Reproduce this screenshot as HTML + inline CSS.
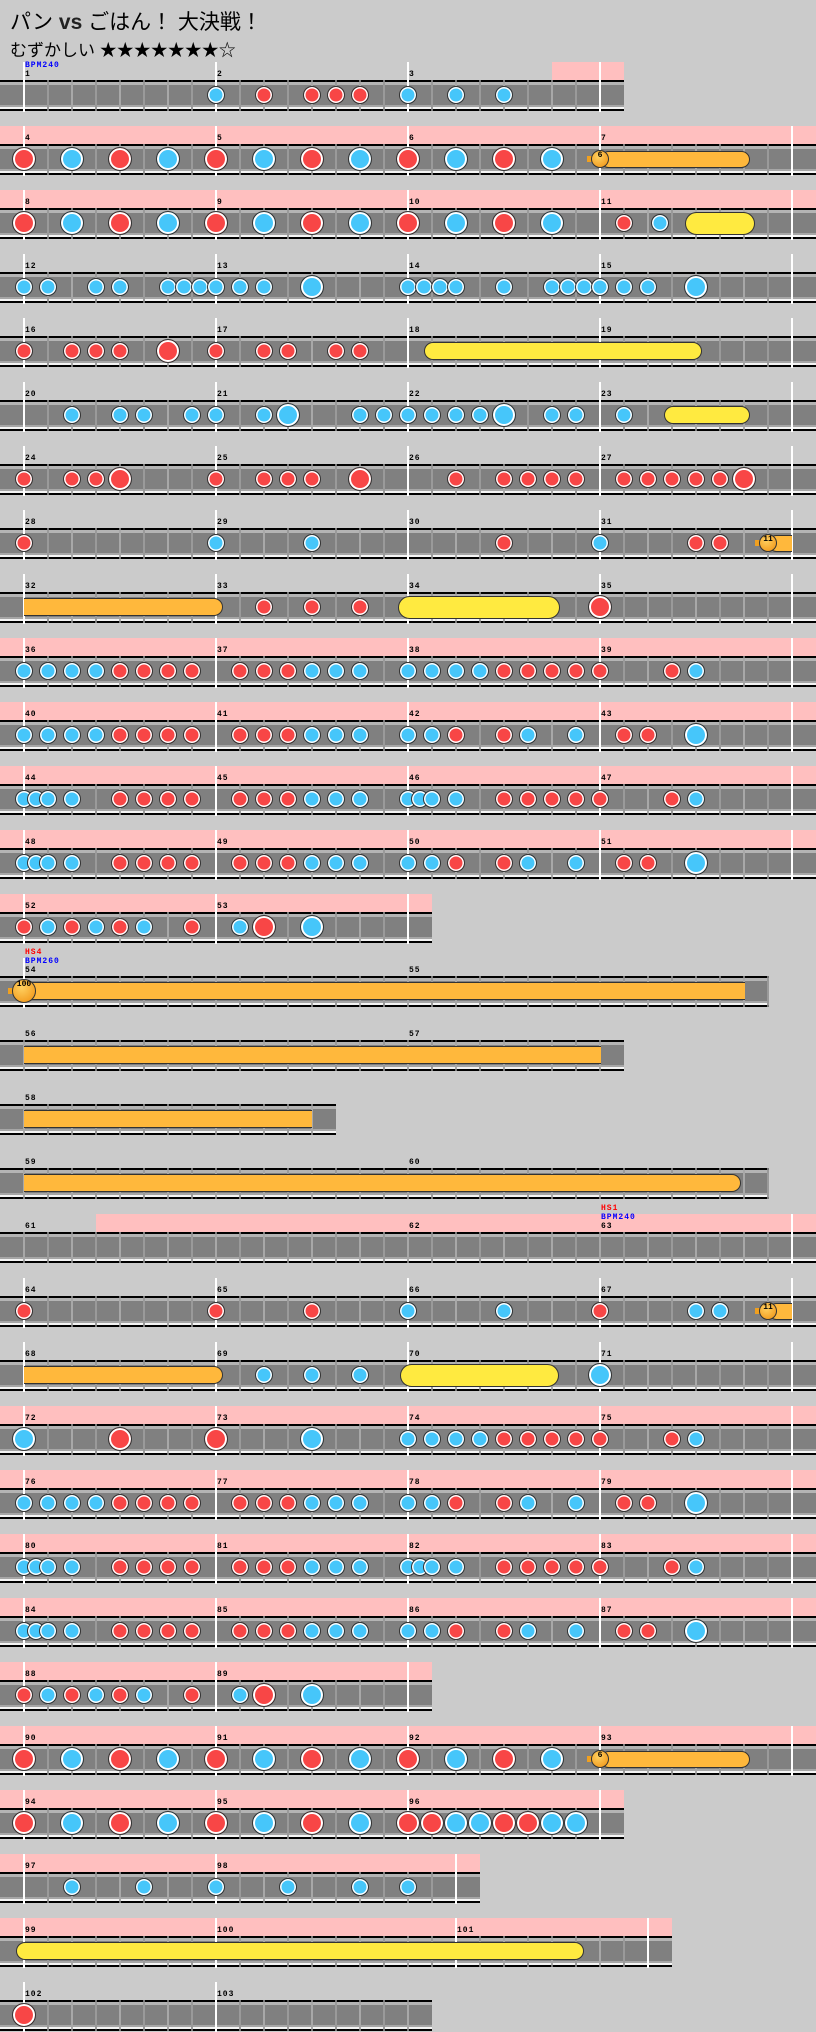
<!DOCTYPE html>
<html><head><meta charset="utf-8">
<style>
html,body{margin:0;padding:0}
body{width:816px;height:2032px;background:#cbcbcb;position:relative;overflow:hidden;font-family:"Liberation Sans","Noto Sans CJK JP",sans-serif}
div{position:absolute;box-sizing:border-box}
.t1{left:10px;top:6px;font-size:21px;color:#000;white-space:nowrap}
.t2{left:10px;top:36px;font-size:17px;color:#000;white-space:nowrap}
.lbl{font-family:"Liberation Mono","DejaVu Sans Mono",monospace;font-size:8px;font-weight:bold;line-height:8px;white-space:nowrap;letter-spacing:1px}
.n{border-radius:50%;border:1.5px solid #333;}
.roll{border:1.5px solid #333;}
</style></head><body>
<div class="t1">パン <b style="color:#222">vs</b> ごはん！ 大決戦！</div>
<div class="t2">むずかしい ★★★★★★★☆</div>
<div id="root" style="left:0;top:0;width:816px;height:2032px"></div>
<script>
var F=[24,216,408,600,792];
function alt(n){var s=[];for(var i=0;i<n;i++)s.push((i%2?'B':'R')+(2*i));return s.join(' ');}
var P1="b0 b1 b2 b3 r4 r5 r6 r7 r9 r10 r11 b12 b13 b14 b16 b17 b18 b19 r20 r21 r22 r23 r24 r27 b28";
var P2="b0 b1 b2 b3 r4 r5 r6 r7 r9 r10 r11 b12 b13 b14 b16 b17 r18 r20 b21 b23 r25 r26 B28";
var P3="b0 b0.5 b1 b2 r4 r5 r6 r7 r9 r10 r11 b12 b13 b14 b16 b16.5 b17 b18 r20 r21 r22 r23 r24 r27 b28";
var P4="b0 b0.5 b1 b2 r4 r5 r6 r7 r9 r10 r11 b12 b13 b14 b16 b17 r18 r20 b21 b23 r25 r26 B28";
var P5="r0 b1 r2 b3 r4 b5 r7 b9 R10 B12";
var rows=[
{m:[1,2,3],mx:[24,216,408],bars:[24,216,408,600],end:624,pink:[552,624],notes:"b8 r10 r12 r13 r14 b16 b18 b20",lab:[[24,"","BPM240"]]},
{m:[4,5,6,7],end:816,pink:[0,816],notes:alt(12),rolls:[{a:600,b:750,h:17,c:"#ffb83c",bal:"6"}]},
{m:[8,9,10,11],end:816,pink:[0,816],notes:alt(12)+" r25 b26.5",rolls:[{a:685,b:755,h:23,c:"#ffea40"}]},
{m:[12,13,14,15],end:816,notes:"b0 b1 b3 b4 b6 b6.67 b7.33 b8 b9 b10 B12 b16 b16.67 b17.33 b18 b20 b22 b22.67 b23.33 b24 b25 b26 B28"},
{m:[16,17,18,19],end:816,notes:"r0 r2 r3 r4 R6 r8 r10 r11 r13 r14",rolls:[{a:424,b:702,h:18,c:"#ffea40"}]},
{m:[20,21,22,23],end:816,notes:"b2 b4 b5 b7 b8 b10 B11 b14 b15 b16 b17 b18 b19 B20 b22 b23 b25",rolls:[{a:664,b:750,h:18,c:"#ffea40"}]},
{m:[24,25,26,27],end:816,notes:"r0 r2 r3 R4 r8 r10 r11 r12 R14 r18 r20 r21 r22 r23 r25 r26 r27 r28 r29 R30"},
{m:[28,29,30,31],end:816,notes:"r0 b8 b12 r20 b24 r28 r29",rolls:[{a:768,b:792,h:17,c:"#ffb83c",bal:"11",sq:1}]},
{m:[32,33,34,35],end:816,notes:"r10 r12 r14 R24",rolls:[{a:24,b:223,h:18,c:"#ffb83c",sl:1},{a:398,b:560,h:23,c:"#ffea40"}]},
{m:[36,37,38,39],end:816,pink:[0,816],notes:P1},
{m:[40,41,42,43],end:816,pink:[0,816],notes:P2},
{m:[44,45,46,47],end:816,pink:[0,816],notes:P3},
{m:[48,49,50,51],end:816,pink:[0,816],notes:P4},
{m:[52,53],mx:[24,216],bars:[24,216,408],end:432,pink:[0,432],notes:P5},
{m:[54,55],mx:[24,408],bars:[24],end:769,notes:"",rolls:[{a:24,b:745,h:18,c:"#ffb83c",bal:"100",sq:1,big:1}],lab:[[24,"HS4","BPM260"]]},
{m:[56,57],mx:[24,408],bars:[],end:624,rolls:[{a:24,b:601,h:18,c:"#ffb83c",sq:1,sl:1}]},
{m:[58],mx:[24],bars:[],end:336,rolls:[{a:24,b:312,h:18,c:"#ffb83c",sq:1,sl:1}]},
{m:[59,60],mx:[24,408],bars:[],end:769,rolls:[{a:24,b:741,h:18,c:"#ffb83c",sl:1}]},
{m:[61,62,63],mx:[24,408,600],bars:[792],end:816,pink:[96,816],lab:[[600,"HS1","BPM240"]]},
{m:[64,65,66,67],end:816,notes:"r0 r8 r12 b16 b20 r24 b28 b29",rolls:[{a:768,b:792,h:17,c:"#ffb83c",bal:"11",sq:1}]},
{m:[68,69,70,71],end:816,notes:"b10 b12 b14 B24",rolls:[{a:24,b:223,h:18,c:"#ffb83c",sl:1},{a:400,b:559,h:23,c:"#ffea40"}]},
{m:[72,73,74,75],end:816,pink:[0,816],notes:"B0 R4 R8 B12 b16 b17 b18 b19 r20 r21 r22 r23 r24 r27 b28"},
{m:[76,77,78,79],end:816,pink:[0,816],notes:P2},
{m:[80,81,82,83],end:816,pink:[0,816],notes:P3},
{m:[84,85,86,87],end:816,pink:[0,816],notes:P4},
{m:[88,89],mx:[24,216],bars:[24,216,408],end:432,pink:[0,432],notes:P5},
{m:[90,91,92,93],end:816,pink:[0,816],notes:alt(12),rolls:[{a:600,b:750,h:17,c:"#ffb83c",bal:"6"}]},
{m:[94,95,96],mx:[24,216,408],bars:[24,216,408,600],end:624,pink:[0,624],notes:"R0 B2 R4 B6 R8 B10 R12 B14 R16 R17 B18 B19 R20 R21 B22 B23"},
{m:[97,98],mx:[24,216],bars:[24,216,456],end:480,pink:[0,480],notes:"b2 b5 b8 b11 b14 b16"},
{m:[99,100,101],mx:[24,216,456],bars:[24,216,456,648],end:672,pink:[0,672],rolls:[{a:16,b:584,h:18,c:"#ffea40"}]},
{m:[102,103],mx:[24,216],bars:[24,216],end:432,notes:"R0"}
];
var h=[];
function d(x,y,w,hh,st){h.push('<div style="left:'+x+'px;top:'+y+'px;width:'+w+'px;height:'+hh+'px;'+(st||'')+'"></div>');}
rows.forEach(function(r,i){
 var c=96+64*i,E=r.end;
 var mx=r.mx||F.slice(0,4), bars=r.bars||F;
 if(r.pink)d(r.pink[0],c-34,r.pink[1]-r.pink[0],18,'background:#ffbfbf');
 d(0,c-16,E,2,'background:#000');
 d(0,c-14,E,3,'background:#b4b4b4');
 d(0,c-11,E,20,'background:#808080');
 d(0,c+9,E,2,'background:#a6a6a6');
 d(0,c+11,E,2,'background:#f4f4f4');
 d(0,c+13,E,2,'background:#000');
 for(var x=24;x<E;x+=24){d(x-1,c-14,2,27,'background:'+(((x-24)/24)%2?'#9a9a9a':'#a8a8a8'));d(x-1,c-16,2,2,'background:#777');d(x-1,c+13,2,2,'background:#777');}
 bars.forEach(function(x){d(x-1,c-34,2,50,'background:#fff');});
 mx.forEach(function(x,j){h.push('<div class="lbl" style="left:'+(x+1)+'px;top:'+(c-25)+'px">'+r.m[j]+'</div>');});
 (r.lab||[]).forEach(function(l){
  if(l[1])h.push('<div class="lbl" style="left:'+(l[0]+1)+'px;top:'+(c-43)+'px;color:#f00">'+l[1]+'</div>');
  h.push('<div class="lbl" style="left:'+(l[0]+1)+'px;top:'+(c-34)+'px;color:#00f">'+l[2]+'</div>');
 });
 (r.rolls||[]).forEach(function(o){
  var rad=o.h/2, br=(o.sl?'0':rad+'px')+' '+(o.sq?'0':rad+'px')+' '+(o.sq?'0':rad+'px')+' '+(o.sl?'0':rad+'px');
  d(o.a,c-rad-1,o.b-o.a,o.h,'background:'+o.c+';border:1.5px solid #333;border-radius:'+br+(o.sq?';border-right:none':'')+(o.sl?';border-left:none':''));
  if(o.bal){var bd=o.big?24:18;
   d(o.a-bd/2-4,c-4,8,6,'background:#f0a020');
   h.push('<div class="n" style="left:'+(o.a-bd/2)+'px;top:'+(c-bd/2-1)+'px;width:'+bd+'px;height:'+bd+'px;background:radial-gradient(circle at 40% 35%,#ffd060,#f09010);text-align:center;line-height:'+(bd-3)+'px;font:bold 8px \'Liberation Mono\',monospace;color:#000">'+o.bal+'</div>');}
 });
 (r.notes||"").split(' ').forEach(function(s){
  if(!s)return;var t=s[0],k=parseFloat(s.slice(1)),x=24+24*k,big=(t=='R'||t=='B'),D=big?24:18;
  var col=(t=='r'||t=='R')?'#f84646':'#46c6fa';
  h.push('<div class="n" style="left:'+(x-D/2)+'px;top:'+(c-D/2-1)+'px;width:'+D+'px;height:'+D+'px;background:'+col+';box-shadow:inset 0 0 0 '+(big?2:1.5)+'px #fff"></div>');
 });
});
document.getElementById('root').innerHTML=h.join('');
</script>
</body></html>
